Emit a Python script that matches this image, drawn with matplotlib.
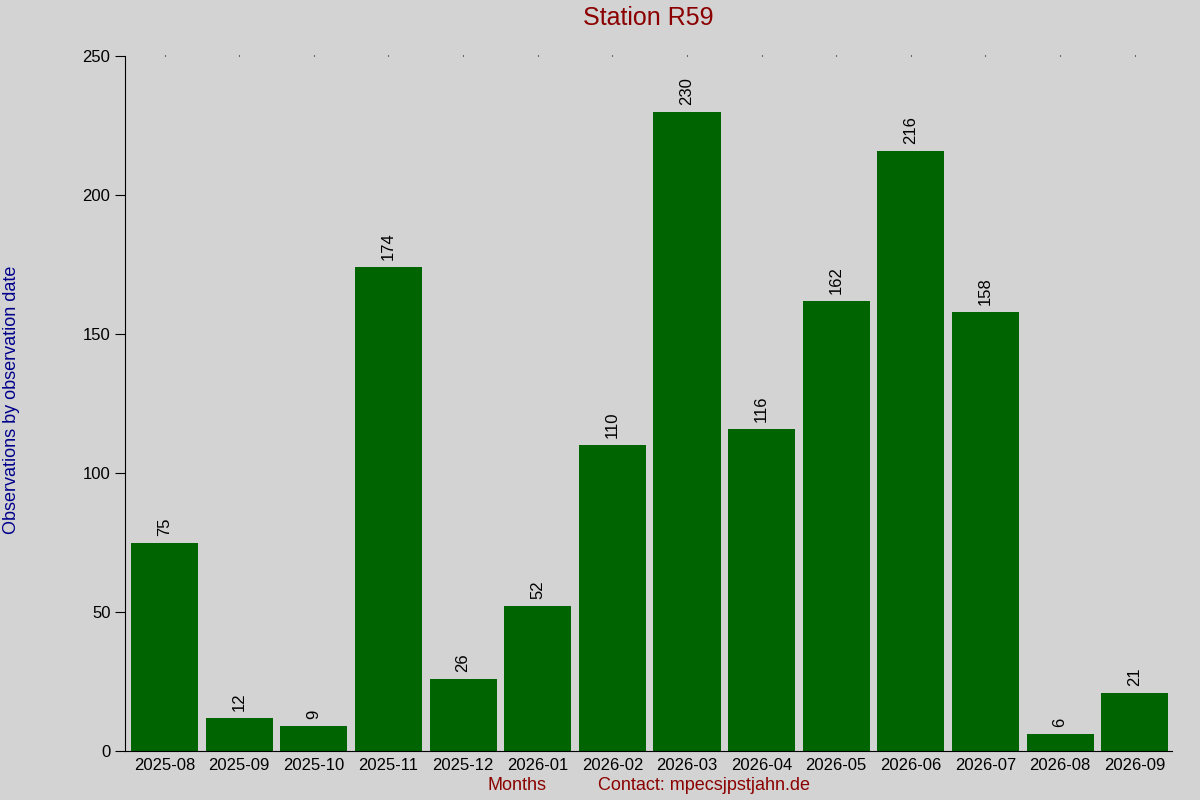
import matplotlib
matplotlib.use("Agg")
import matplotlib.pyplot as plt

plt.rcParams['font.family'] = ['Liberation Sans', 'DejaVu Sans']

months = ['2025-08', '2025-09', '2025-10', '2025-11', '2025-12', '2026-01', '2026-02',
          '2026-03', '2026-04', '2026-05', '2026-06', '2026-07', '2026-08', '2026-09']
counts = [75, 12, 9, 174, 26, 52, 110, 230, 116, 162, 216, 158, 6, 21]

bg = '#d3d3d3'
fig = plt.figure(figsize=(12, 8), dpi=100, facecolor=bg)
ax = fig.add_axes([0.1042, 0.06125, 0.8725, 0.86875], facecolor=bg)

x = list(range(len(months)))
ax.bar(x, counts, width=0.9, color='#006400')
for xi, c in zip(x, counts):
    ax.text(xi, c + 2.5, str(c), rotation=90, ha='center', va='bottom', fontsize=12)

ax.set_xlim(-0.53, 13.5)
ax.set_ylim(0, 250)
ax.set_xticks(x)
ax.set_xticklabels(months, fontsize=12)
ax.set_yticks([0, 50, 100, 150, 200, 250])
ax.tick_params(axis='y', labelsize=12, length=7)
ax.tick_params(axis='x', length=0, pad=5, top=True)
for t in ax.xaxis.get_major_ticks():
    t.tick2line.set_markersize(1)
for s in ['top', 'right']:
    ax.spines[s].set_visible(False)

fig.text(0.54, 0.977, 'Station R59', ha='center', va='center', fontsize=18, color='#8b0000')
fig.text(0.010, 0.5, 'Observations by observation date', rotation=90, ha='center', va='center',
         fontsize=13, color='#00008b')
fig.text(0.431, 0.018, 'Months', ha='center', va='center', fontsize=13, color='#8b0000')
fig.text(0.587, 0.018, 'Contact: mpecsjpstjahn.de', ha='center', va='center', fontsize=13, color='#8b0000')

fig.savefig('out.png', dpi=100, facecolor=bg)
